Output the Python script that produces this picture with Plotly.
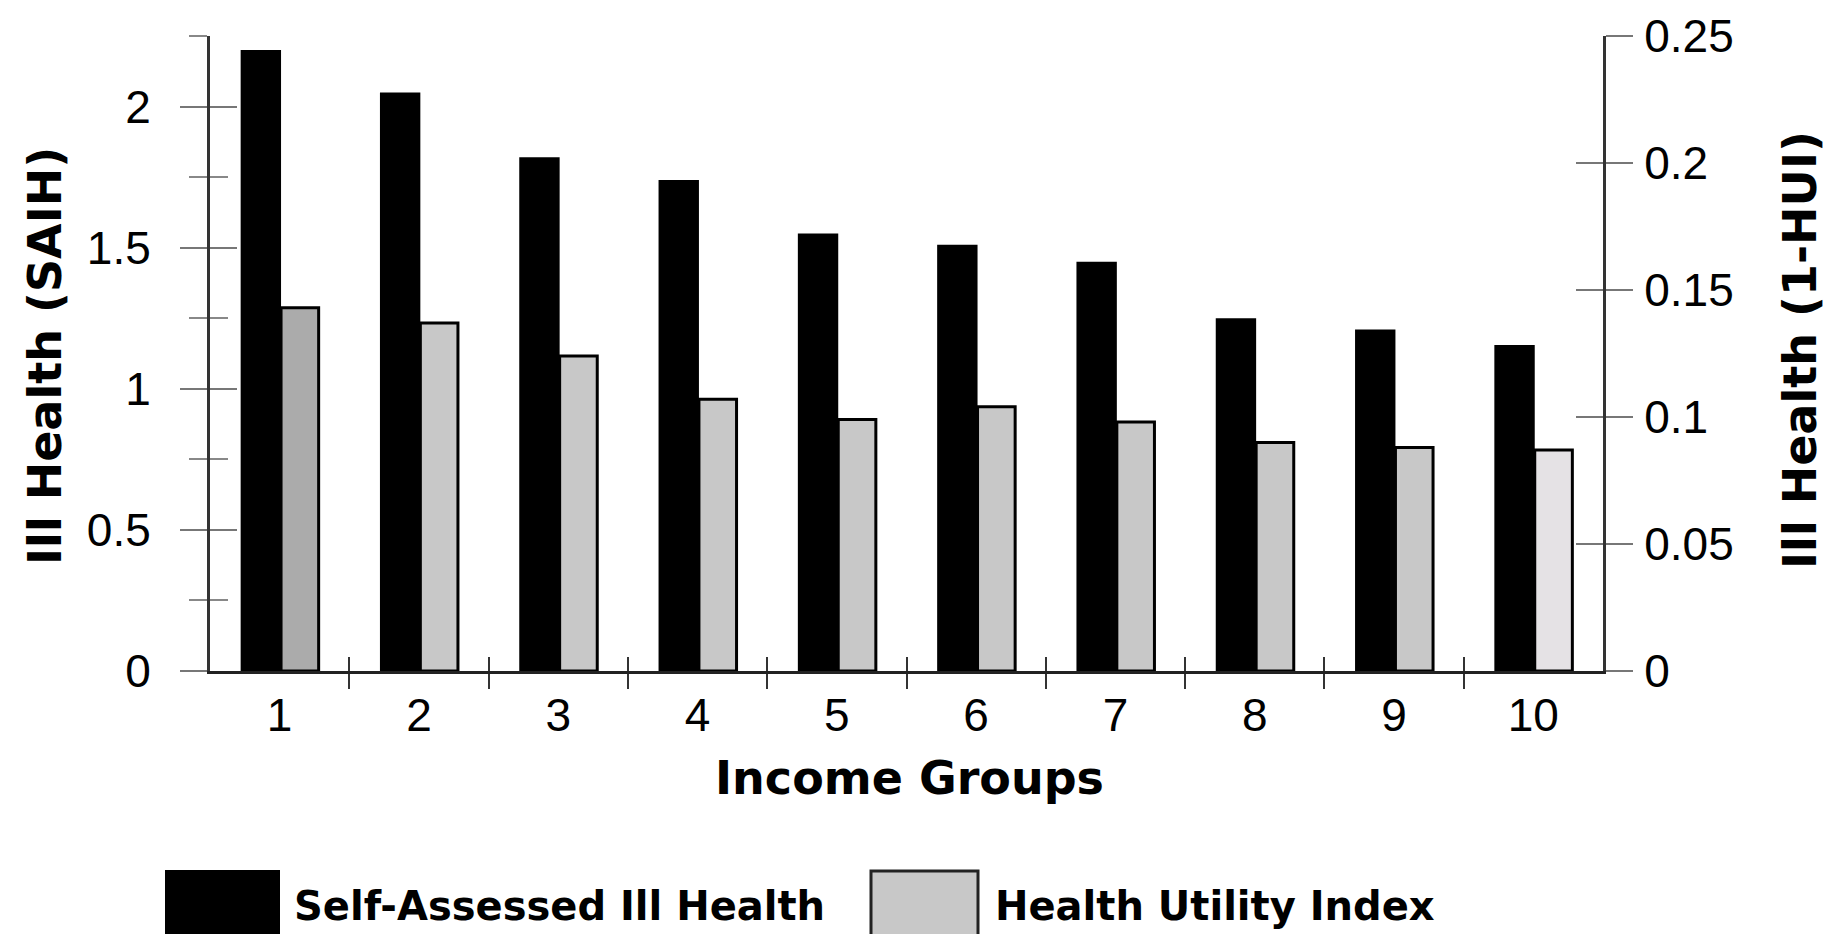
import plotly.graph_objects as go

# ---- data ----
income_groups = [1, 2, 3, 4, 5, 6, 7, 8, 9, 10]
saih_values = [2.20, 2.05, 1.82, 1.74, 1.55, 1.51, 1.45, 1.25, 1.21, 1.155]
hui_values = [0.143, 0.137, 0.124, 0.107, 0.099, 0.104, 0.098, 0.090, 0.088, 0.087]
saih_name = "Self-Assessed Ill Health"
hui_name = "Health Utility Index"
left_title = "Ill Health (SAIH)"
right_title = "Ill Health (1-HUI)"
x_title = "Income Groups"

# ---- styles ----
hui_colors = ["#ababab"] + ["#c8c8c8"] * 8 + ["#e5e2e5"]
W, H = 1834, 934
L, R, T, B = 202, 239, 28, 271
PW, PH = W - L - R, H - T - B

def px(xp):
    return (xp - L) / PW

def py(yp):
    return (H - B - yp) / PH

TICK_FONT = dict(family="Liberation Sans, Arial", size=46, color="black")
TITLE_FONT = dict(family="DejaVu Sans", size=46, color="black", weight="bold")
LEG_FONT = dict(family="DejaVu Sans", size=40, color="black", weight="bold")

fig = go.Figure()
fig.add_trace(go.Bar(
    x=income_groups, y=saih_values, name=saih_name,
    marker=dict(color="black", line=dict(width=0)),
    width=0.29, offset=-0.28, yaxis="y", showlegend=False,
))
fig.add_trace(go.Bar(
    x=income_groups, y=hui_values, name=hui_name,
    marker=dict(color=hui_colors, line=dict(color="black", width=3)),
    width=0.27, offset=0.01, yaxis="y2", showlegend=False,
))
# empty helper traces so the tick-only overlay axes are drawn
for xa, ya in [("x2", "y"), ("x", "y3"), ("x", "y4")]:
    fig.add_trace(go.Scatter(x=[], y=[], xaxis=xa, yaxis=ya, mode="markers",
                             showlegend=False, hoverinfo="skip"))

xr = [0.5, 10.5]
bounds = [g + 0.5 for g in income_groups[:-1]]
left_range = [0, 2.25]
right_range = [0, 0.25]
left_minor = [0.25, 0.75, 1.25, 1.75, 2.25]

fig.update_layout(
    width=W, height=H,
    margin=dict(l=L, r=R, t=T, b=B, autoexpand=False),
    paper_bgcolor="white", plot_bgcolor="white",
    barmode="overlay",
    xaxis=dict(
        range=xr, tickmode="array", tickvals=income_groups,
        ticktext=[str(g) for g in income_groups],
        ticks="", showgrid=False, zeroline=False,
        showline=True, linecolor="#222", linewidth=3,
        tickfont=TICK_FONT, ticklabelstandoff=2,
        minor=dict(tickmode="array", tickvals=bounds, ticks="outside",
                   ticklen=15, tickwidth=2, tickcolor="#333"),
    ),
    xaxis2=dict(
        overlaying="x", anchor="y", side="bottom", range=xr,
        tickmode="array", tickvals=bounds, ticks="inside", ticklen=14,
        tickwidth=2, tickcolor="#333", showticklabels=False,
        showline=False, showgrid=False, zeroline=False,
    ),
    yaxis=dict(
        range=left_range, tickmode="linear", tick0=0, dtick=0.5,
        ticks="outside", ticklen=27, tickwidth=2, tickcolor="#777",
        showline=True, linecolor="#333", linewidth=3,
        showgrid=False, zeroline=False, tickfont=TICK_FONT,
        ticklabelstandoff=20,
        minor=dict(tickmode="array", tickvals=left_minor, ticks="outside",
                   ticklen=18, tickwidth=2, tickcolor="#888"),
    ),
    yaxis3=dict(
        overlaying="y", anchor="x", side="left", range=left_range,
        tickmode="linear", tick0=0, dtick=0.5, ticks="inside", ticklen=27,
        tickwidth=2, tickcolor="#777", showticklabels=False,
        showline=False, showgrid=False, zeroline=False,
        minor=dict(tickmode="array", tickvals=left_minor, ticks="inside",
                   ticklen=18, tickwidth=2, tickcolor="#888"),
    ),
    yaxis2=dict(
        overlaying="y", anchor="x", side="right", range=right_range,
        tickmode="linear", tick0=0, dtick=0.05,
        ticks="outside", ticklen=27, tickwidth=2, tickcolor="#777",
        showline=True, linecolor="#333", linewidth=3,
        showgrid=False, zeroline=False, tickfont=TICK_FONT,
        ticklabelstandoff=2,
    ),
    yaxis4=dict(
        overlaying="y", anchor="x", side="right", range=right_range,
        tickmode="linear", tick0=0, dtick=0.05, ticks="inside", ticklen=27,
        tickwidth=2, tickcolor="#777", showticklabels=False,
        showline=False, showgrid=False, zeroline=False,
    ),
)

# axis titles
fig.add_annotation(text=left_title, xref="paper", yref="paper",
                   x=px(37), y=py(348), textangle=-90, showarrow=False,
                   xanchor="center", yanchor="middle", font=TITLE_FONT)
fig.add_annotation(text=right_title, xref="paper", yref="paper",
                   x=px(1792), y=py(342), textangle=-90, showarrow=False,
                   xanchor="center", yanchor="middle", font=TITLE_FONT)
fig.add_annotation(text=x_title, xref="paper", yref="paper",
                   x=px(901), y=py(770), showarrow=False,
                   xanchor="center", yanchor="middle", font=TITLE_FONT)

# legend (large swatches, as in the reference)
fig.add_shape(type="rect", xref="paper", yref="paper",
              x0=px(157), x1=px(272), y0=py(940), y1=py(862),
              fillcolor="black", line=dict(width=0))
fig.add_shape(type="rect", xref="paper", yref="paper",
              x0=px(863), x1=px(970), y0=py(931), y1=py(863),
              fillcolor="#c8c8c8", line=dict(color="#222", width=3))
fig.add_annotation(text=saih_name, xref="paper", yref="paper",
                   x=px(284), y=py(898), showarrow=False,
                   xanchor="left", yanchor="middle", font=LEG_FONT)
fig.add_annotation(text=hui_name, xref="paper", yref="paper",
                   x=px(985), y=py(898), showarrow=False,
                   xanchor="left", yanchor="middle", font=LEG_FONT)

fig.write_html("out.html")
